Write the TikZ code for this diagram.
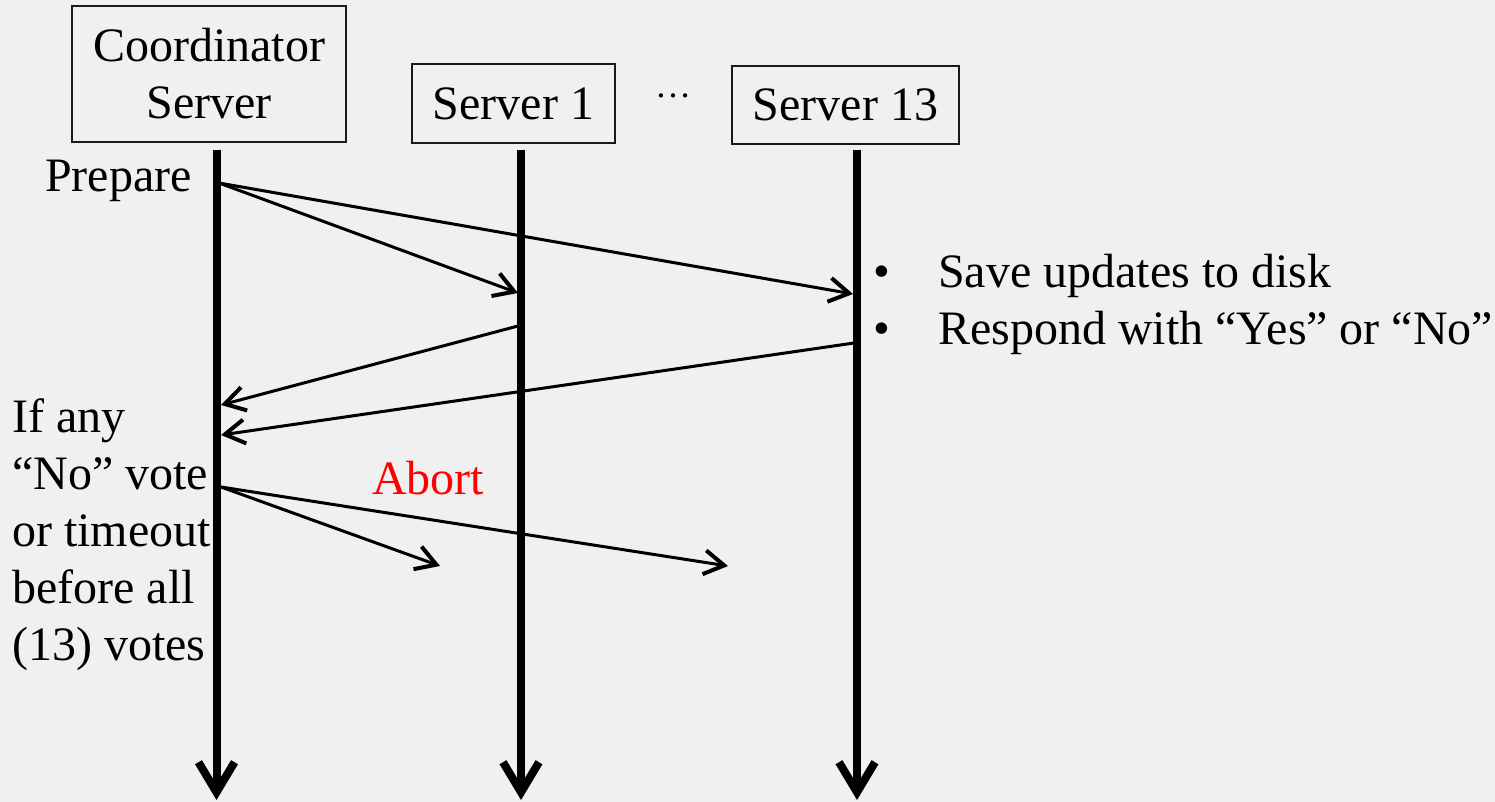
\documentclass[tikz,border=0pt]{standalone}
\usepackage{fontspec}
\setmainfont{Liberation Serif}
\usetikzlibrary{arrows.meta}
\definecolor{bg}{RGB}{240,240,240}
\definecolor{abortred}{RGB}{255,0,0}
\begin{document}
\begin{tikzpicture}[x=1pt,y=-1pt,
  every node/.style={font=\fontsize{48}{57}\selectfont, inner sep=0pt},
  box/.style={draw=black!90, line width=2pt, align=center},
  life/.style={line width=8pt, -{Straight Barb[length=30pt,width=36pt]}},
  msg/.style={line width=3pt, -{Straight Barb[length=20pt,width=24pt,line width=4pt]}},
  lbl/.style={anchor=base west, align=left}]
\fill[bg] (0,0) rectangle (1495,802);
\useasboundingbox (0,0) rectangle (1495,802);

% participants
\node[box, minimum width=274pt, minimum height=136pt] (coord) at (209,74) {Coordinator\\Server};
\node[box, minimum width=203pt, minimum height=79pt] (s1) at (513.5,103.5) {Server 1};
\node[box, minimum width=227pt, minimum height=78pt] (s13) at (845.5,105) {Server 13};
\node[font=\fontsize{36}{40}\selectfont] (dots) at (673,96) {…};

% lifelines
\coordinate (c0) at (216.5,150); \coordinate (c1) at (216.5,800);
\coordinate (a0) at (521,150);   \coordinate (a1) at (521,800);
\coordinate (b0) at (857,150);   \coordinate (b1) at (857,800);
\draw[life] (c0) -- (c1);
\draw[life] (a0) -- (a1);
\draw[life] (b0) -- (b1);

% message points
\coordinate (prep) at (219,183);
\coordinate (s1in) at (518,293);
\coordinate (s13in) at (853,294);
\coordinate (s1out) at (518,326);
\coordinate (s13out) at (854,343);
\coordinate (cin1) at (221,405);
\coordinate (cin13) at (221,435);
\coordinate (ab) at (221,487);
\coordinate (ab1) at (440,566);
\coordinate (ab13) at (728,566);

\draw[msg] (prep) -- (s1in);
\draw[msg] (prep) -- (s13in);
\draw[msg] (s1out) -- (cin1);
\draw[msg] (s13out) -- (cin13);
\draw[msg] (ab) -- (ab1);
\draw[msg] (ab) -- (ab13);

% labels (base anchor = baseline of last line)
\node[lbl] (prepl) at (45,192) {Prepare};
\node[lbl] (cond) at (12,660) {If any\\“No” vote\\or timeout\\before all\\(13) votes};
\node[lbl, text=abortred] (abort) at (372,494) {Abort};
\node[lbl] (todo) at (873,344) {\makebox[65pt][l]{•}Save updates to disk\\\makebox[65pt][l]{•}Respond with “Yes” or “No”};
\end{tikzpicture}
\end{document}
